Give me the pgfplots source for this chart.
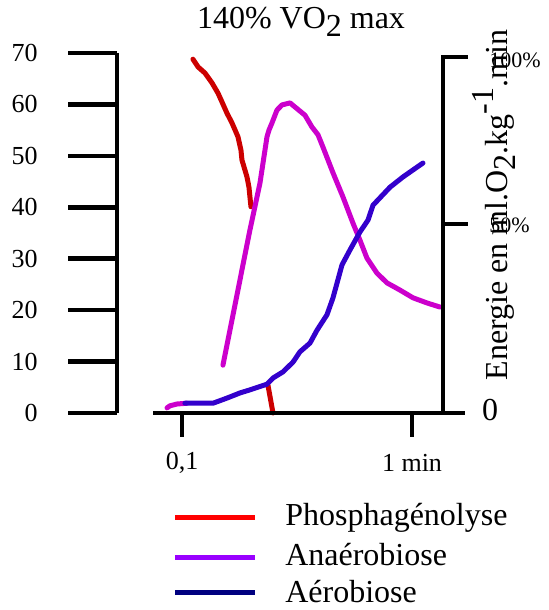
\documentclass[border=0pt]{standalone}
\usepackage{pgfplots}
\pgfplotsset{compat=1.18}
\usepackage{fontspec}
\setmainfont{Liberation Serif}

\definecolor{phosred}{HTML}{CC0000}
\definecolor{anamag}{HTML}{CC00CC}
\definecolor{aeroblue}{HTML}{3300CC}
\definecolor{legred}{HTML}{FF0000}
\definecolor{legviolet}{HTML}{9900FF}
\definecolor{legnavy}{HTML}{000080}

\newcommand{\tickfont}{\fontsize{13}{15}\selectfont}
\newcommand{\pctfont}{\fontsize{11}{13}\selectfont}
\newcommand{\bigfont}{\fontsize{16}{19}\selectfont}

\begin{document}
\begin{tikzpicture}
% data axis: x = time in min (log), y = left scale 0--70
\begin{axis}[
  at={(58.5pt,-206.5pt)}, anchor=south west,
  scale only axis, width=163pt, height=180pt,
  xmode=log, xmin=0.05218, xmax=1.364, ymin=0, ymax=70,
  axis lines=none, clip=false,
  every axis plot/.style={line width=2.5pt, line join=round, line cap=round},
]
% Phosphagenolyse
\addplot[draw=phosred] coordinates {
  (0.1116,68.8) (0.1174,67.3) (0.1259,66.1) (0.1350,64.2) (0.1434,62.2)
  (0.1492,60.5) (0.1569,58.3) (0.1650,56.4) (0.1752,53.7) (0.1805,51.1)
  (0.1823,49.2) (0.1917,45.9) (0.1956,43.9) (0.1975,42.0) (0.1995,40.1)};
\addplot[draw=phosred] coordinates {(0.2365,5.4) (0.2487,0)};
% Anaerobiose
\addplot[draw=anamag] coordinates {
  (0.0861,1.0) (0.0887,1.4) (0.0951,1.75) (0.1051,1.9)};
\addplot[draw=anamag] coordinates {
  (0.1507,9.3) (0.1975,35.6) (0.2183,44.7) (0.2342,53.7) (0.2389,55.0)
  (0.2462,56.4) (0.2588,58.9) (0.2721,59.9) (0.2949,60.3) (0.3100,59.5)
  (0.3426,57.9) (0.3675,55.6) (0.3903,54.1) (0.4102,51.7) (0.4535,46.7)
  (0.5012,42.0) (0.5540,36.9) (0.5940,33.6) (0.6373,30.1) (0.7044,27.2)
  (0.7787,25.3) (0.8867,23.9) (1.010,22.4) (1.162,21.4) (1.323,20.6)};
% Aerobiose
\addplot[draw=aeroblue] coordinates {
  (0.1030,1.9) (0.1364,1.9) (0.1569,2.9) (0.1787,3.9) (0.1975,4.5)
  (0.2342,5.6) (0.2487,6.8) (0.2749,8.0) (0.3039,9.9) (0.3258,11.9)
  (0.3602,13.6) (0.3864,16.1) (0.4269,19.1) (0.4535,22.4) (0.4962,28.8)
  (0.5375,31.7) (0.5940,35.2) (0.6437,37.5) (0.6767,40.4) (0.8023,43.9)
  (0.9139,45.9) (1.051,47.8) (1.116,48.6)};
\end{axis}

% frame, ticks and texts in pixel units of the reference (y downwards)
\begin{scope}[x=0.5pt, y=-0.5pt, line width=2.3pt]
\useasboundingbox (0,0) rectangle (548,610);
% left scale
\draw (117,53) -- (117,413);
\foreach \k in {0,...,7} {
  \draw (68,{413-51.43*\k}) -- (117,{413-51.43*\k});
  \node[anchor=east, font=\tickfont, inner sep=0pt] at (40,{413-51.43*\k}) {\pgfmathparse{int(10*\k)}\pgfmathresult};
}
% time axis
\draw (153,413) -- (465,413);
\draw (182,413) -- (182,437);
\draw (412,413) -- (412,437);
\node[font=\tickfont] at (182,463) {0,1};
\node[font=\tickfont] at (412,463) {1 min};
% right scale
\draw (443,57) -- (443,413);
\draw (441,57) -- (468,57);
\draw (441,224) -- (468,224);
\node[anchor=west, font=\pctfont, inner sep=0pt] at (487,60) {100\%};
\node[anchor=west, font=\pctfont, inner sep=0pt] at (487,225) {50\%};
\node[font=\bigfont, inner sep=0pt] at (490,410) {0};
\node[font=\bigfont, rotate=90, inner sep=0pt] at (494,205)
  {Energie en ml.O\raisebox{-0.25em}{2}.kg\raisebox{0.45em}{-1}.min};
% title
\node[font=\bigfont, inner sep=0pt] at (301,22) {140\% VO\raisebox{-0.25em}{2} max};
% legend
\draw[legred, line width=2.5pt] (175,517) -- (255,517);
\draw[legviolet, line width=2.5pt] (175,557) -- (255,557);
\draw[legnavy, line width=2.5pt] (175,592) -- (255,592);
\node[anchor=base west, font=\bigfont, inner sep=0pt] at (283,525) {Phosphagénolyse};
\node[anchor=base west, font=\bigfont, inner sep=0pt] at (283,565) {Anaérobiose};
\node[anchor=base west, font=\bigfont, inner sep=0pt] at (283,602) {Aérobiose};
\end{scope}
\end{tikzpicture}
\end{document}
